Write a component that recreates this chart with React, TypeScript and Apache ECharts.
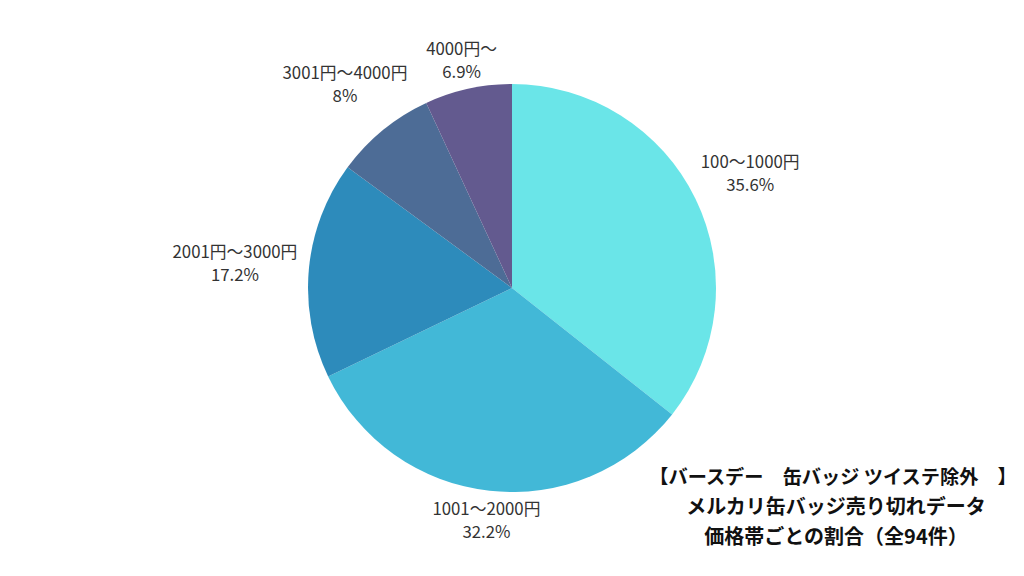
import React, { useEffect, useRef } from "react";
import * as echarts from "echarts";

const categories = ["100〜1000円", "1001〜2000円", "2001円〜3000円", "3001円〜4000円", "4000円〜"];
const shares = [35.6, 32.2, 17.2, 8, 6.9];
const colors = ["#6ae5e8", "#42b8d7", "#2d8bbb", "#4d6c96", "#635a8f"];
const noteLines = [
  "【バースデー　缶バッジ ツイステ除外　】",
  "メルカリ缶バッジ売り切れデータ",
  "価格帯ごとの割合（全94件）",
];

const W = 1024;
const H = 576;
const R = 204;

export default function App() {
  const ref = useRef<HTMLDivElement>(null);
  useEffect(() => {
    if (!ref.current) return;
    const chart = echarts.init(ref.current, undefined, { renderer: "svg" });
    const total = shares.reduce((a, b) => a + b, 0);
    const cum: number[] = [];
    let acc = 0;
    shares.forEach((v) => {
      cum.push(acc);
      acc += v;
    });
    chart.setOption({
      animation: false,
      backgroundColor: "#ffffff",
      series: [
        {
          type: "pie",
          center: ["50%", "50%"],
          radius: R,
          startAngle: 90,
          clockwise: true,
          silent: true,
          data: categories.map((c, i) => ({
            name: c,
            value: shares[i],
            itemStyle: { color: colors[i] },
          })),
          itemStyle: { borderWidth: 0 },
          label: {
            show: true,
            position: "outside",
            formatter: "{b}\n{c}%",
            fontFamily: "'Noto Sans CJK JP', 'Noto Sans', sans-serif",
            fontSize: 16.8,
            lineHeight: 23,
            color: "#333333",
          },
          labelLine: { show: false, length: 10, length2: 0 },
          labelLayout: (p: any) => {
            const i = p.dataIndex;
            const mid = ((cum[i] + shares[i] / 2) / total) * Math.PI * 2;
            const dx = Math.sin(mid);
            const dy = -Math.cos(mid);
            const hw = p.labelRect.width / 2;
            const d = R + 11 + hw * Math.abs(dx) + 12 * Math.abs(dy);
            return {
              x: W / 2 + dx * d,
              y: H / 2 + dy * d,
              align: "center",
              verticalAlign: "middle",
            };
          },
        },
      ],
      graphic: noteLines.map((t, i) => ({
        type: "text",
        x: i === 0 ? 833 : 836,
        y: 476 + i * 29.5,
        style: {
          text: t,
          align: "center",
          verticalAlign: "middle",
          fontFamily: "'Noto Sans CJK JP', sans-serif",
          fontWeight: "bold",
          fontSize: i === 0 ? 19.2 : 20,
          fill: "#111111",
        },
      })),
    });
    return () => chart.dispose();
  }, []);
  return (
    <div
      ref={ref}
      style={{ position: "fixed", left: 0, top: 0, width: W, height: H, background: "#fff" }}
    />
  );
}
